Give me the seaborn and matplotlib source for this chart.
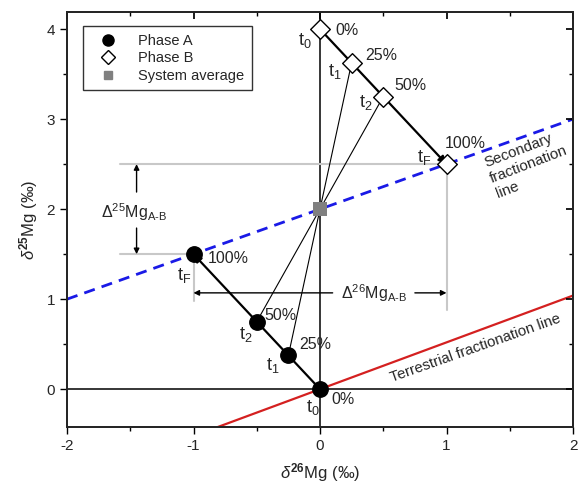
import numpy as np
import pandas as pd
import matplotlib
matplotlib.use("Agg")
import matplotlib.pyplot as plt
from matplotlib.ticker import MultipleLocator
from matplotlib.lines import Line2D
import seaborn as sns

# ---- data ----
phase_a_x = [0.0, -0.25, -0.5, -1.0]
phase_a_y = [0.0, 0.375, 0.75, 1.5]
phase_b_x = [0.0, 0.25, 0.5, 1.0]
phase_b_y = [4.0, 3.625, 3.25, 2.5]
avg_x = [0.0]
avg_y = [2.0]
pct_labels = ["0%", "25%", "50%", "100%"]
t_labels = ["t$_\\mathrm{0}$", "t$_\\mathrm{1}$", "t$_\\mathrm{2}$", "t$_\\mathrm{F}$"]
terr_x = [-2.0, 2.0]
terr_slope = 0.52
sec_x = [-2.0, 2.0]
sec_slope = 0.5

sns.set_theme(style="ticks")
plt.rcParams["font.family"] = ["Liberation Sans", "DejaVu Sans"]
plt.rcParams["mathtext.fontset"] = "custom"
plt.rcParams["mathtext.rm"] = "Liberation Sans"
plt.rcParams["mathtext.it"] = "Liberation Sans:italic"
plt.rcParams["mathtext.bf"] = "Liberation Sans:bold"
plt.rcParams["axes.unicode_minus"] = False

fig = plt.figure(figsize=(5.78, 4.88), dpi=100)
ax = fig.add_axes([67/578, 1-427/488, (573-67)/578, (427-12)/488])
ax.set_xlim(-2, 2)
ax.set_ylim(-0.42, 4.19)

# axes cross lines
ax.axvline(0, color="black", lw=1.1, zorder=1)
ax.axhline(0, color="black", lw=1.1, zorder=1)

# gray guide lines
gray = "#c8c8c8"
ax.plot([-1.58, phase_b_x[3]], [phase_b_y[3], phase_b_y[3]], color=gray, lw=1.5, zorder=1)
ax.plot([-1.58, phase_a_x[3]], [phase_a_y[3], phase_a_y[3]], color=gray, lw=1.5, zorder=1)
ax.plot([phase_a_x[3], phase_a_x[3]], [phase_a_y[3], 0.98], color=gray, lw=1.5, zorder=1)
ax.plot([phase_b_x[3], phase_b_x[3]], [phase_b_y[3], 0.88], color=gray, lw=1.5, zorder=1)

# fractionation lines
terr_df = pd.DataFrame({"x": terr_x, "y": [terr_slope * v for v in terr_x]})
sns.lineplot(data=terr_df, x="x", y="y", color="#d42020", lw=1.6, ax=ax, zorder=2)
sec_df = pd.DataFrame({"x": sec_x, "y": [avg_y[0] + sec_slope * v for v in sec_x]})
sns.lineplot(data=sec_df, x="x", y="y", color="#1a1ae6", lw=2.0, ax=ax, zorder=2)
ax.lines[-1].set_dashes([4, 2.6])

# thin connecting lines A_i -> B_i
for i in (1, 2):
    ax.plot([phase_a_x[i], phase_b_x[i]], [phase_a_y[i], phase_b_y[i]], color="black", lw=0.8, zorder=2)

# evolution arrows
for xs, ys in ((phase_a_x, phase_a_y), (phase_b_x, phase_b_y)):
    ax.annotate("", xy=(xs[3], ys[3]), xytext=(xs[0], ys[0]),
                arrowprops=dict(arrowstyle="-|>", color="black", lw=1.6, mutation_scale=11,
                                shrinkA=0, shrinkB=0), zorder=3)

# points
dfa = pd.DataFrame({"x": phase_a_x, "y": phase_a_y})
dfb = pd.DataFrame({"x": phase_b_x, "y": phase_b_y})
dfs = pd.DataFrame({"x": avg_x, "y": avg_y})
sns.scatterplot(data=dfs, x="x", y="y", marker="s", s=110, color="#808080", edgecolor="none", ax=ax, zorder=4)
sns.scatterplot(data=dfa, x="x", y="y", marker="o", s=125, color="black", edgecolor="black", ax=ax, zorder=4)
sns.scatterplot(data=dfb, x="x", y="y", marker="D", s=100, color="white", edgecolor="black",
                linewidth=1.0, ax=ax, zorder=4)

# labels
fs = 11.5
a_pct_pos = [(0.087, -0.12), (-0.166, 0.5), (-0.44, 0.82), (-0.89, 1.45)]
a_t_pos = [(-0.06, -0.25), (-0.37, 0.21), (-0.59, 0.56), (-1.07, 1.21)]
b_pct_pos = [(0.12, 3.99), (0.36, 3.71), (0.59, 3.37), (0.99, 2.73)]
b_t_pos = [(-0.12, 3.82), (0.12, 3.48), (0.36, 3.13), (0.82, 2.52)]
for i in range(4):
    ax.text(*a_pct_pos[i], pct_labels[i], fontsize=fs, ha="left", va="center")
    ax.text(*a_t_pos[i], t_labels[i], fontsize=13, ha="center", va="baseline")
    ax.text(*b_pct_pos[i], pct_labels[i], fontsize=fs, ha="left", va="center")
    ax.text(*b_t_pos[i], t_labels[i], fontsize=13, ha="center", va="baseline")

# delta annotations
sub_ab = r"$_{\mathrm{A\text{-}B}}$"
ax.text(-1.47, 1.97, r"$\Delta^{25}$Mg" + sub_ab, fontsize=fs, ha="center", va="center")
ax.annotate("", xy=(-1.45, 2.5), xytext=(-1.45, 2.19),
            arrowprops=dict(arrowstyle="-|>", color="black", lw=1.0, mutation_scale=8, shrinkA=0, shrinkB=0))
ax.annotate("", xy=(-1.45, 1.5), xytext=(-1.45, 1.79),
            arrowprops=dict(arrowstyle="-|>", color="black", lw=1.0, mutation_scale=8, shrinkA=0, shrinkB=0))
ax.text(0.43, 1.07, r"$\Delta^{26}$Mg" + sub_ab, fontsize=fs, ha="center", va="center")
ax.annotate("", xy=(-1.0, 1.07), xytext=(0.1, 1.07),
            arrowprops=dict(arrowstyle="-|>", color="black", lw=1.0, mutation_scale=8, shrinkA=0, shrinkB=0))
ax.annotate("", xy=(1.0, 1.07), xytext=(0.75, 1.07),
            arrowprops=dict(arrowstyle="-|>", color="black", lw=1.0, mutation_scale=8, shrinkA=0, shrinkB=0))

ax.text(1.28, 2.58, "Secondary\nfractionation\nline", fontsize=10.8, rotation=21,
        ha="left", va="top", multialignment="left", rotation_mode="anchor", linespacing=1.25)
ax.text(1.23, 0.45, "Terrestrial fractionation line", fontsize=10.8, rotation=19.5,
        ha="center", va="center", rotation_mode="anchor")

# axes styling
ax.xaxis.set_major_locator(MultipleLocator(1))
ax.xaxis.set_minor_locator(MultipleLocator(0.5))
ax.yaxis.set_major_locator(MultipleLocator(1))
ax.yaxis.set_minor_locator(MultipleLocator(0.5))
ax.tick_params(which="both", direction="out", top=False, right=False, labelsize=11, width=1, color="black")
ax.tick_params(which="major", length=5)
ax.tick_params(which="minor", length=3)
for sp in ax.spines.values():
    sp.set_color("black")
    sp.set_linewidth(1.1)
ax.set_xlabel(r"$\delta^{\mathbf{26}}$Mg (‰)", fontsize=12, labelpad=6)
ax.set_ylabel(r"$\delta^{\mathbf{25}}$Mg (‰)", fontsize=12, labelpad=5)

# ticks on top/right pointing inward
ax2 = ax.twinx()
ax2.set_ylim(ax.get_ylim())
ax2.yaxis.set_major_locator(MultipleLocator(1))
ax2.yaxis.set_minor_locator(MultipleLocator(0.5))
ax2.tick_params(which="both", direction="in", labelright=False, color="black")
ax2.tick_params(which="major", length=5)
ax2.tick_params(which="minor", length=3)
ax3 = ax.twiny()
ax3.set_xlim(ax.get_xlim())
ax3.xaxis.set_major_locator(MultipleLocator(1))
ax3.xaxis.set_minor_locator(MultipleLocator(0.5))
ax3.tick_params(which="both", direction="in", labeltop=False, color="black")
ax3.tick_params(which="major", length=5)
ax3.tick_params(which="minor", length=3)

# legend
handles = [
    Line2D([], [], marker="o", ls="none", color="black", markersize=8),
    Line2D([], [], marker="D", ls="none", markerfacecolor="white", markeredgecolor="black", markersize=7),
    Line2D([], [], marker="s", ls="none", color="#808080", markersize=6),
]
leg = ax.legend(handles, ["Phase A", "Phase B", "System average"], loc="upper left",
                bbox_to_anchor=(0.017, 0.983), fontsize=10.5, frameon=True, fancybox=False,
                handletextpad=0.8, borderpad=0.5, labelspacing=0.25, handlelength=2.5)
leg.get_frame().set_edgecolor("black")
leg.get_frame().set_linewidth(1.0)
leg.set_zorder(10)

fig.savefig("out.png", dpi=100)
